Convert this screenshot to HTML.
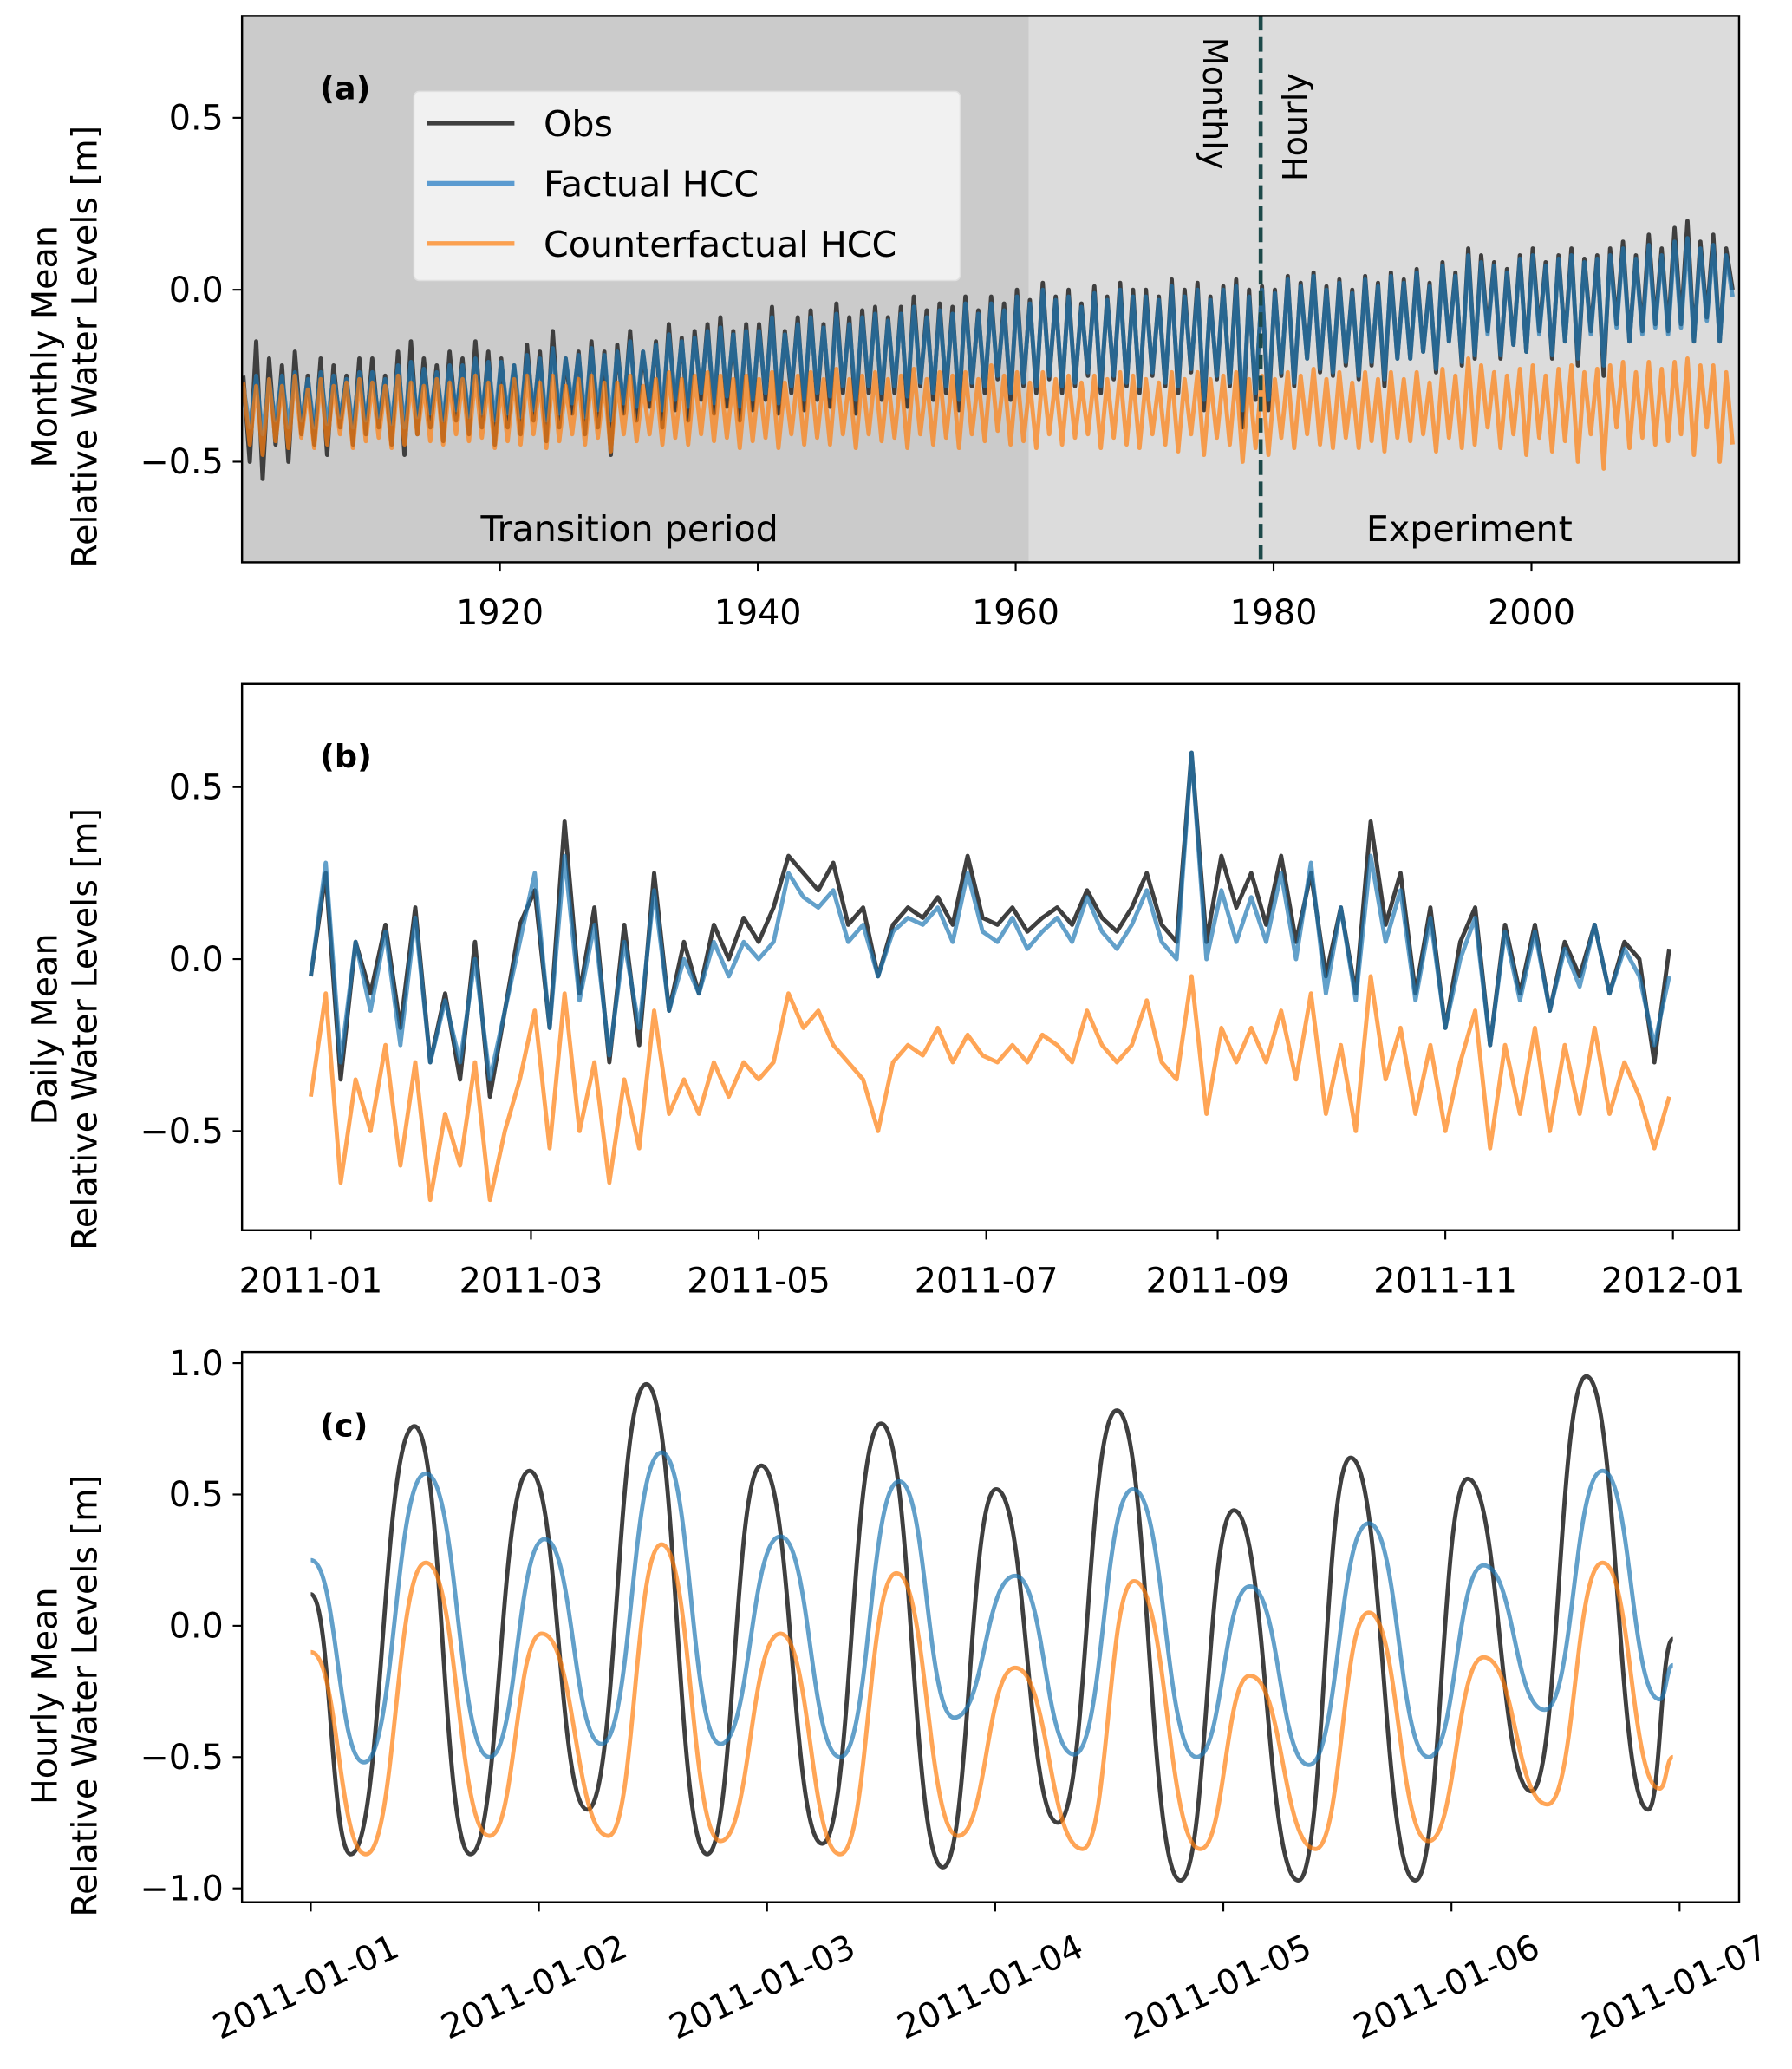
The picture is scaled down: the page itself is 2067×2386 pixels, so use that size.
<!DOCTYPE html>
<html><head><meta charset="utf-8"><style>
html,body{margin:0;padding:0;background:#fff;}
svg{display:block;font-family:"DejaVu Sans","Liberation Sans",sans-serif;}
</style></head><body>
<svg id="fig" width="2067" height="2386" viewBox="0 0 1355 1564" xmlns="http://www.w3.org/2000/svg">
<g id="pa">
  <rect x="183" y="12" width="595" height="413" fill="#cbcbcb"/>
  <rect x="778" y="12" width="537" height="413" fill="#dcdcdc"/>
</g>
<g id="pb"></g>
<g id="pc"></g>
</svg>
<script>
// ---- Panel (a) monthly: alternating peak/trough values, 2 per year from 1900 ----
const aStartYear = 1900;
const aObs = [-0.25,-0.5,-0.15,-0.55,-0.2,-0.45,-0.22,-0.5,-0.18,-0.42,-0.25,-0.45,-0.2,-0.48,-0.22,-0.4,-0.25,-0.45,-0.2,-0.42,
-0.2,-0.4,-0.25,-0.45,-0.18,-0.48,-0.15,-0.42,-0.2,-0.4,-0.22,-0.44,-0.18,-0.38,-0.2,-0.42,-0.15,-0.4,-0.18,-0.45,
-0.2,-0.4,-0.22,-0.42,-0.16,-0.38,-0.18,-0.44,-0.12,-0.4,-0.2,-0.36,-0.18,-0.42,-0.15,-0.4,-0.18,-0.48,-0.16,-0.36,
-0.12,-0.38,-0.18,-0.34,-0.15,-0.4,-0.1,-0.35,-0.14,-0.38,-0.12,-0.32,-0.1,-0.36,-0.08,-0.34,-0.12,-0.38,-0.1,-0.35,
-0.1,-0.32,-0.05,-0.36,-0.12,-0.3,-0.08,-0.35,-0.06,-0.32,-0.1,-0.34,-0.04,-0.3,-0.08,-0.36,-0.06,-0.3,-0.05,-0.32,
-0.08,-0.3,-0.05,-0.34,-0.02,-0.28,-0.06,-0.32,-0.04,-0.3,-0.05,-0.35,-0.02,-0.28,-0.06,-0.3,-0.02,-0.26,-0.04,-0.32,
0.0,-0.28,-0.03,-0.3,0.02,-0.26,-0.02,-0.3,0.0,-0.28,-0.04,-0.25,0.01,-0.3,-0.02,-0.26,0.02,-0.28,0.0,-0.3,
0.0,-0.25,-0.02,-0.28,0.03,-0.3,0.0,-0.24,0.02,-0.35,-0.02,-0.26,0.01,-0.28,0.03,-0.4,0.0,-0.32,0.01,-0.35,
0.0,-0.25,0.04,-0.28,0.02,-0.2,0.05,-0.24,0.01,-0.25,0.03,-0.22,0.0,-0.26,0.04,-0.22,0.02,-0.28,0.05,-0.2,
0.03,-0.2,0.06,-0.18,0.02,-0.24,0.08,-0.15,0.05,-0.22,0.12,-0.2,0.1,-0.12,0.08,-0.2,0.06,-0.16,0.1,-0.18,
0.12,-0.12,0.08,-0.2,0.1,-0.15,0.12,-0.22,0.09,-0.12,0.1,-0.25,0.12,-0.1,0.14,-0.15,0.1,-0.12,0.16,-0.1,
0.12,-0.12,0.18,-0.1,0.2,-0.15,0.14,-0.08,0.16,-0.15,0.12,0.0];
const aFact = [-0.28,-0.4,-0.25,-0.42,-0.26,-0.38,-0.25,-0.4,-0.24,-0.38,-0.26,-0.4,-0.24,-0.39,-0.25,-0.37,-0.26,-0.4,-0.24,-0.38,
-0.24,-0.37,-0.26,-0.39,-0.22,-0.4,-0.21,-0.37,-0.23,-0.36,-0.24,-0.38,-0.22,-0.35,-0.22,-0.37,-0.2,-0.36,-0.21,-0.38,
-0.21,-0.36,-0.22,-0.37,-0.19,-0.35,-0.2,-0.38,-0.17,-0.36,-0.2,-0.33,-0.19,-0.37,-0.17,-0.35,-0.19,-0.38,-0.18,-0.33,
-0.15,-0.34,-0.18,-0.32,-0.16,-0.35,-0.13,-0.32,-0.15,-0.34,-0.14,-0.3,-0.12,-0.33,-0.11,-0.31,-0.13,-0.34,-0.12,-0.32,
-0.12,-0.3,-0.08,-0.33,-0.13,-0.28,-0.1,-0.32,-0.08,-0.3,-0.11,-0.31,-0.07,-0.28,-0.1,-0.32,-0.08,-0.28,-0.07,-0.3,
-0.09,-0.28,-0.07,-0.31,-0.05,-0.27,-0.08,-0.3,-0.06,-0.28,-0.07,-0.32,-0.04,-0.27,-0.07,-0.28,-0.04,-0.25,-0.06,-0.3,
-0.02,-0.27,-0.04,-0.28,0.0,-0.25,-0.03,-0.28,-0.02,-0.27,-0.05,-0.24,-0.01,-0.28,-0.03,-0.25,0.0,-0.27,-0.02,-0.28,
-0.02,-0.24,-0.03,-0.27,0.01,-0.28,-0.02,-0.23,0.0,-0.32,-0.03,-0.25,0.0,-0.27,0.01,-0.35,-0.02,-0.3,0.0,-0.32,
-0.01,-0.24,0.03,-0.27,0.01,-0.2,0.04,-0.23,0.0,-0.24,0.02,-0.21,-0.01,-0.25,0.03,-0.21,0.01,-0.26,0.04,-0.2,
0.02,-0.2,0.05,-0.18,0.01,-0.23,0.07,-0.15,0.04,-0.21,0.1,-0.19,0.08,-0.13,0.07,-0.19,0.05,-0.16,0.09,-0.18,
0.1,-0.13,0.07,-0.19,0.09,-0.15,0.1,-0.2,0.08,-0.13,0.09,-0.22,0.1,-0.11,0.12,-0.15,0.09,-0.13,0.13,-0.11,
0.1,-0.13,0.14,-0.11,0.15,-0.15,0.12,-0.09,0.13,-0.15,0.1,-0.02];
const aCf = [-0.27,-0.45,-0.28,-0.48,-0.26,-0.44,-0.28,-0.46,-0.25,-0.43,-0.29,-0.46,-0.26,-0.45,-0.28,-0.42,-0.27,-0.46,-0.26,-0.44,
-0.27,-0.43,-0.28,-0.46,-0.25,-0.45,-0.27,-0.42,-0.28,-0.44,-0.26,-0.45,-0.27,-0.42,-0.26,-0.44,-0.25,-0.43,-0.27,-0.46,
-0.28,-0.44,-0.26,-0.45,-0.25,-0.42,-0.27,-0.46,-0.25,-0.44,-0.28,-0.42,-0.26,-0.45,-0.25,-0.43,-0.27,-0.47,-0.27,-0.42,
-0.25,-0.44,-0.28,-0.42,-0.26,-0.45,-0.24,-0.43,-0.26,-0.45,-0.25,-0.42,-0.24,-0.44,-0.25,-0.43,-0.26,-0.46,-0.25,-0.44,
-0.26,-0.43,-0.24,-0.46,-0.27,-0.42,-0.25,-0.45,-0.24,-0.43,-0.26,-0.45,-0.23,-0.42,-0.26,-0.46,-0.25,-0.42,-0.24,-0.44,
-0.26,-0.43,-0.25,-0.46,-0.23,-0.42,-0.26,-0.45,-0.24,-0.43,-0.25,-0.46,-0.24,-0.42,-0.26,-0.44,-0.22,-0.41,-0.25,-0.45,
-0.24,-0.44,-0.27,-0.46,-0.24,-0.42,-0.26,-0.45,-0.25,-0.43,-0.27,-0.42,-0.25,-0.46,-0.26,-0.43,-0.24,-0.45,-0.25,-0.46,
-0.26,-0.42,-0.27,-0.45,-0.24,-0.47,-0.26,-0.42,-0.24,-0.48,-0.26,-0.43,-0.25,-0.45,-0.24,-0.5,-0.26,-0.46,-0.25,-0.48,
-0.26,-0.43,-0.24,-0.46,-0.25,-0.42,-0.23,-0.45,-0.26,-0.46,-0.24,-0.43,-0.27,-0.46,-0.24,-0.44,-0.26,-0.47,-0.24,-0.43,
-0.26,-0.44,-0.24,-0.42,-0.27,-0.47,-0.23,-0.43,-0.25,-0.46,-0.2,-0.45,-0.22,-0.4,-0.24,-0.46,-0.25,-0.42,-0.23,-0.48,
-0.22,-0.43,-0.25,-0.47,-0.23,-0.44,-0.22,-0.5,-0.24,-0.42,-0.23,-0.52,-0.22,-0.4,-0.21,-0.46,-0.24,-0.43,-0.21,-0.45,
-0.23,-0.44,-0.21,-0.42,-0.2,-0.48,-0.22,-0.4,-0.22,-0.5,-0.24,-0.45];
const aYTicks = [0.5, 0.0, -0.5];
const aYTickLabels = ["0.5","0.0","\u22120.5"];
const aXTicks = [1920,1940,1960,1980,2000];
const aXTickLabels = ["1920","1940","1960","1980","2000"];

// ---- Panel (b) daily: values sampled evenly through 2011 ----
const bObs = [-0.05,0.25,-0.35,0.05,-0.1,0.1,-0.2,0.15,-0.3,-0.1,-0.35,0.05,-0.4,-0.15,0.1,0.2,-0.2,0.4,-0.1,0.15,-0.3,0.1,-0.25,0.25,-0.15,0.05,-0.1,0.1,0.0,0.12,0.05,0.15,0.3,0.25,0.2,0.28,0.1,0.15,-0.05,0.1,0.15,0.12,0.18,0.1,0.3,0.12,0.1,0.15,0.08,0.12,0.15,0.1,0.2,0.12,0.08,0.15,0.25,0.1,0.05,0.6,0.05,0.3,0.15,0.25,0.1,0.3,0.05,0.25,-0.05,0.15,-0.1,0.4,0.1,0.25,-0.1,0.15,-0.2,0.05,0.15,-0.25,0.1,-0.1,0.1,-0.15,0.05,-0.05,0.1,-0.1,0.05,0.0,-0.3,0.03];
const bFact = [-0.05,0.28,-0.3,0.05,-0.15,0.08,-0.25,0.12,-0.3,-0.12,-0.3,0.0,-0.35,-0.15,0.05,0.25,-0.2,0.3,-0.12,0.1,-0.28,0.05,-0.2,0.2,-0.15,0.0,-0.1,0.05,-0.05,0.05,0.0,0.05,0.25,0.18,0.15,0.2,0.05,0.1,-0.05,0.08,0.12,0.1,0.15,0.05,0.25,0.08,0.05,0.12,0.03,0.08,0.12,0.05,0.18,0.08,0.03,0.1,0.2,0.05,0.0,0.6,0.0,0.2,0.05,0.18,0.05,0.25,0.0,0.28,-0.1,0.15,-0.12,0.3,0.05,0.2,-0.12,0.12,-0.2,0.0,0.12,-0.25,0.08,-0.12,0.08,-0.15,0.03,-0.08,0.1,-0.1,0.03,-0.05,-0.25,-0.05];
const bCf = [-0.4,-0.1,-0.65,-0.35,-0.5,-0.25,-0.6,-0.3,-0.7,-0.45,-0.6,-0.3,-0.7,-0.5,-0.35,-0.15,-0.55,-0.1,-0.5,-0.3,-0.65,-0.35,-0.55,-0.15,-0.45,-0.35,-0.45,-0.3,-0.4,-0.3,-0.35,-0.3,-0.1,-0.2,-0.15,-0.25,-0.3,-0.35,-0.5,-0.3,-0.25,-0.28,-0.2,-0.3,-0.22,-0.28,-0.3,-0.25,-0.3,-0.22,-0.25,-0.3,-0.15,-0.25,-0.3,-0.25,-0.12,-0.3,-0.35,-0.05,-0.45,-0.2,-0.3,-0.2,-0.3,-0.15,-0.35,-0.1,-0.45,-0.25,-0.5,-0.05,-0.35,-0.2,-0.45,-0.25,-0.5,-0.3,-0.15,-0.55,-0.25,-0.45,-0.2,-0.5,-0.25,-0.45,-0.2,-0.45,-0.3,-0.4,-0.55,-0.4];
const bYTicks = [0.5, 0.0, -0.5];
const bYTickLabels = ["0.5","0.0","\u22120.5"];
const bXTicksDays = [0,59,120,181,243,304,365];
const bXTickLabels = ["2011-01","2011-03","2011-05","2011-07","2011-09","2011-11","2012-01"];

// ---- Panel (c) hourly: tidal extrema (hours since 2011-01-01, value) ----
const cObsHours = [0,4.2,10.9,16.8,23.0,29.1,35.3,41.7,47.4,53.8,60.0,66.5,72.1,78.6,84.8,91.5,97.1,103.9,109.4,116.2,121.7,128.4,134.2,140.7,143.3];
const cObsVals = [0.12,-0.87,0.76,-0.87,0.59,-0.7,0.92,-0.87,0.61,-0.83,0.77,-0.92,0.52,-0.75,0.82,-0.97,0.44,-0.97,0.64,-0.97,0.56,-0.63,0.95,-0.7,-0.05];
const cFactHours = [0,5.6,12.1,18.8,24.6,30.6,36.9,43.1,49.4,55.7,61.9,67.7,74.1,80.3,86.5,93.2,98.8,105.0,111.3,117.6,123.4,129.8,135.9,141.9,143.3];
const cFactVals = [0.25,-0.52,0.58,-0.5,0.33,-0.45,0.66,-0.45,0.34,-0.5,0.55,-0.35,0.19,-0.49,0.52,-0.5,0.15,-0.53,0.39,-0.5,0.23,-0.32,0.59,-0.28,-0.15];
const cCfHours = [0,5.8,12.1,18.8,24.3,31.3,36.9,43.1,49.4,55.7,61.6,68.1,74.1,81.2,86.6,93.6,98.8,105.7,111.3,117.6,123.4,130.1,135.9,141.9,143.3];
const cCfVals = [-0.1,-0.87,0.24,-0.8,-0.03,-0.8,0.31,-0.82,-0.03,-0.87,0.2,-0.8,-0.16,-0.85,0.17,-0.85,-0.19,-0.85,0.05,-0.82,-0.12,-0.68,0.24,-0.62,-0.5];
const cYTicks = [1.0,0.5,0.0,-0.5,-1.0];
const cYTickLabels = ["1.0","0.5","0.0","\u22120.5","\u22121.0"];
const cXTicksDays = [0,1,2,3,4,5,6];
const cXTickLabels = ["2011-01-01","2011-01-02","2011-01-03","2011-01-04","2011-01-05","2011-01-06","2011-01-07"];

const NS = "http://www.w3.org/2000/svg";
function mk(parent, tag, attrs, text){
  const e = document.createElementNS(NS, tag);
  for (const k in attrs) e.setAttribute(k, attrs[k]);
  if (text !== undefined) e.textContent = text;
  parent.appendChild(e);
  return e;
}
const C_OBS = "#3f3f3f", C_FACT = "#1f77b4", C_CF = "#ff7f0e";
const FT = 26;
const FA = 26;

const aX = yr => 183 + (yr - 1900) * 9.75;
const aY = v => 219 - v * 260;
const bX = d => 235 + d * (1030 / 365);
const bY = v => 725 - v * 260;
const cX = d => 235 + d * 172.5;
const cY = v => 1229 - v * 198.5;

function poly(g, xs, ys, color, op, name){
  let d = "";
  for (let i = 0; i < xs.length; i++) d += (i ? "L" : "M") + xs[i].toFixed(2) + " " + ys[i].toFixed(2);
  const p = mk(g, "path", {d:d, fill:"none", stroke:color, "stroke-width":3.2, "stroke-opacity":op, "stroke-linejoin":"round"});
  
  
  return p;
}
function smooth(g, xs, ys, color, op, name){
  let d = "M" + xs[0].toFixed(2) + " " + ys[0].toFixed(2);
  for (let i = 1; i < xs.length; i++) {
    const mx = (xs[i-1] + xs[i]) / 2;
    d += "C" + mx.toFixed(2) + " " + ys[i-1].toFixed(2) + " " + mx.toFixed(2) + " " + ys[i].toFixed(2) + " " + xs[i].toFixed(2) + " " + ys[i].toFixed(2);
  }
  const p = mk(g, "path", {d:d, fill:"none", stroke:color, "stroke-width":3.2, "stroke-opacity":op});
  
  
  return p;
}
function frame(g, top, bot, pname){
  const r = mk(g, "rect", {x:183, y:top, width:1132, height:bot-top, fill:"none", stroke:"#000", "stroke-width":1.6});
  
  
}
function yAxis(g, ticks, labels, fy, pname, line1, midY){
  for (let i = 0; i < ticks.length; i++) {
    const y = fy(ticks[i]);
    const t = mk(g, "line", {x1:176, x2:183, y1:y, y2:y, stroke:"#000", "stroke-width":1.4});
    
    
    const l = mk(g, "text", {x:169, y:y+9, "text-anchor":"end", "font-size":FT}, labels[i]);
    
    
  }
  const t1 = mk(g, "text", {x:0, y:0, "text-anchor":"middle", "font-size":FA, transform:"translate(43," + midY + ") rotate(-90)"}, line1);
  
  
  const t2 = mk(g, "text", {x:0, y:0, "text-anchor":"middle", "font-size":FA, transform:"translate(73," + midY + ") rotate(-90)"}, "Relative Water Levels [m]");
  
  
}
function clip(id, top, bot){
  const defs = mk(document.getElementById("fig"), "defs", {});
  const cp = mk(defs, "clipPath", {id:id});
  mk(cp, "rect", {x:183, y:top, width:1132, height:bot-top});
}

// ===== Panel A =====
(function(){
  const g = document.getElementById("pa");
  clip("ca", 12, 425);
  const lines = mk(g, "g", {"clip-path":"url(#ca)"});
  
  
  const xsA = arr => arr.map((v,i) => aX(aStartYear + i * 0.5 + 0.1));
  poly(lines, xsA(aObs), aObs.map(aY), C_OBS, 1, "obs-monthly-line");
  poly(lines, xsA(aFact), aFact.map(aY), C_FACT, 0.7, "factual-monthly-line");
  poly(lines, xsA(aCf), aCf.map(aY), C_CF, 0.7, "counterfactual-monthly-line");
  const dl = mk(g, "line", {x1:aX(1979), x2:aX(1979), y1:12, y2:425, stroke:"#1d4a4a", "stroke-width":3, "stroke-dasharray":"11 5"});
  
  
  const m = mk(g, "text", {x:0, y:0, "font-size":25, transform:"translate(910,28) rotate(90)"}, "Monthly");
  
  
  const h = mk(g, "text", {x:0, y:0, "font-size":25, transform:"translate(988,137) rotate(-90)"}, "Hourly");
  
  
  const tp = mk(g, "text", {x:476, y:409, "text-anchor":"middle", "font-size":27}, "Transition period");
  
  
  const ex = mk(g, "text", {x:1111, y:409, "text-anchor":"middle", "font-size":27}, "Experiment");
  
  
  const lbl = mk(g, "text", {x:242, y:75, "font-size":24, "font-weight":"bold"}, "(a)");
  
  
  const lg = mk(g, "g", {});
  
  
  mk(lg, "rect", {x:313, y:69, width:413, height:143, rx:4, fill:"#f5f5f5", "fill-opacity":0.9, stroke:"#e0e0e0", "stroke-width":1});
  const legNames = ["Obs","Factual HCC","Counterfactual HCC"];
  const legCols = [C_OBS, "#5b9bd0", "#fba050"];
  for (let i = 0; i < 3; i++) {
    const y = 93 + i * 45.5;
    const e = mk(lg, "g", {});
    
    
    mk(e, "line", {x1:323, x2:389, y1:y, y2:y, stroke:legCols[i], "stroke-width":3.5});
    mk(e, "text", {x:411, y:y+10, "font-size":27}, legNames[i]);
  }
  frame(g, 12, 425, "panel-a");
  yAxis(g, aYTicks, aYTickLabels, aY, "panel-a", "Monthly Mean", 262);
  for (let i = 0; i < aXTicks.length; i++) {
    const x = aX(aXTicks[i]);
    const t = mk(g, "line", {x1:x, x2:x, y1:425, y2:432, stroke:"#000", "stroke-width":1.4});
    
    
    const l = mk(g, "text", {x:x, y:472, "text-anchor":"middle", "font-size":FT}, aXTickLabels[i]);
    
    
  }
})();

// ===== Panel B =====
(function(){
  const g = document.getElementById("pb");
  const dayOf = (arr, i) => i * 364 / (arr.length - 1);
  poly(g, bObs.map((v,i) => bX(dayOf(bObs,i))), bObs.map(bY), C_OBS, 1, "obs-daily-line");
  poly(g, bFact.map((v,i) => bX(dayOf(bFact,i))), bFact.map(bY), C_FACT, 0.7, "factual-daily-line");
  poly(g, bCf.map((v,i) => bX(dayOf(bCf,i))), bCf.map(bY), C_CF, 0.7, "counterfactual-daily-line");
  const lbl = mk(g, "text", {x:242, y:580, "font-size":24, "font-weight":"bold"}, "(b)");
  
  
  frame(g, 517, 930, "panel-b");
  yAxis(g, bYTicks, bYTickLabels, bY, "panel-b", "Daily Mean", 778);
  for (let i = 0; i < bXTicksDays.length; i++) {
    const x = bX(bXTicksDays[i]);
    const t = mk(g, "line", {x1:x, x2:x, y1:930, y2:937, stroke:"#000", "stroke-width":1.4});
    
    
    const l = mk(g, "text", {x:x, y:977, "text-anchor":"middle", "font-size":FT}, bXTickLabels[i]);
    
    
  }
})();

// ===== Panel C =====
(function(){
  const g = document.getElementById("pc");
  smooth(g, cObsHours.map(h => cX(h/24)), cObsVals.map(cY), C_OBS, 1, "obs-hourly-line");
  smooth(g, cFactHours.map(h => cX(h/24)), cFactVals.map(cY), C_FACT, 0.7, "factual-hourly-line");
  smooth(g, cCfHours.map(h => cX(h/24)), cCfVals.map(cY), C_CF, 0.7, "counterfactual-hourly-line");
  const lbl = mk(g, "text", {x:242, y:1086, "font-size":24, "font-weight":"bold"}, "(c)");
  
  
  frame(g, 1022, 1438, "panel-c");
  yAxis(g, cYTicks, cYTickLabels, cY, "panel-c", "Hourly Mean", 1282);
  for (let i = 0; i < cXTicksDays.length; i++) {
    const x = cX(cXTicksDays[i]);
    const t = mk(g, "line", {x1:x, x2:x, y1:1438, y2:1445, stroke:"#000", "stroke-width":1.4});
    
    
    const l = mk(g, "text", {x:0, y:0, "text-anchor":"middle", "font-size":FT, transform:"translate(" + x + ",1510) rotate(-25)"}, cXTickLabels[i]);
    
    
  }
})();
</script>
</body></html>
